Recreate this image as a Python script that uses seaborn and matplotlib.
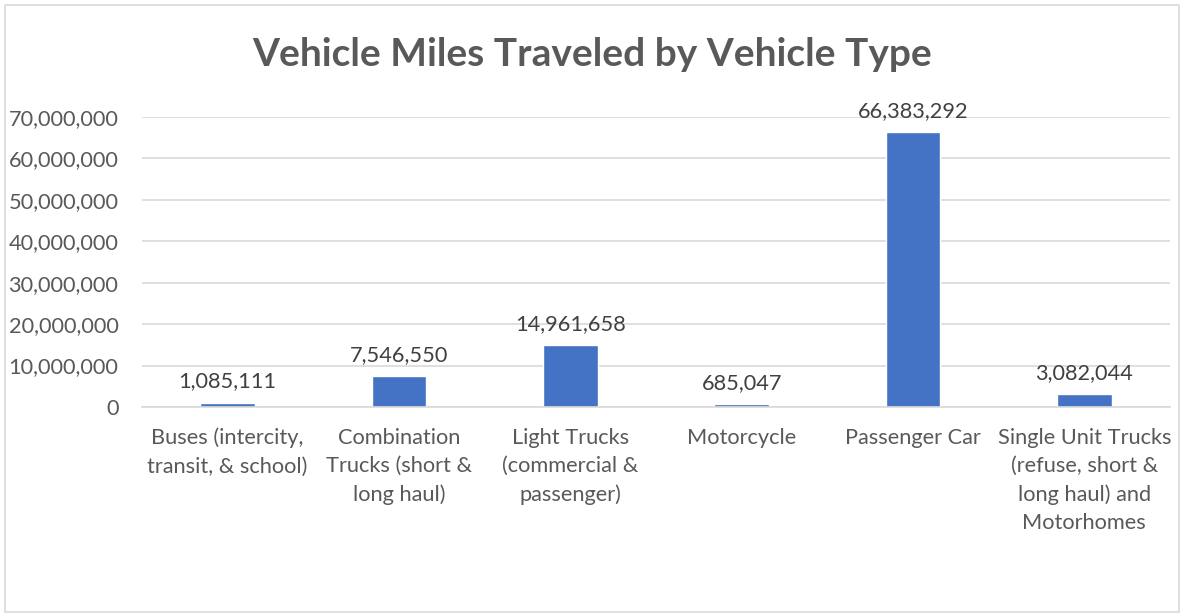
import matplotlib
matplotlib.use("Agg")
import matplotlib.pyplot as plt
import seaborn as sns
import pandas as pd
from matplotlib.patches import Rectangle
from matplotlib.ticker import FuncFormatter

categories = [
    "Buses (intercity,\ntransit, & school)",
    "Combination\nTrucks (short &\nlong haul)",
    "Light Trucks\n(commercial &\npassenger)",
    "Motorcycle",
    "Passenger Car",
    "Single Unit Trucks\n(refuse, short &\nlong haul) and\nMotorhomes",
]
miles = [1085111, 7546550, 14961658, 685047, 66383292, 3082044]
yticks = [0, 10000000, 20000000, 30000000, 40000000, 50000000, 60000000, 70000000]

df = pd.DataFrame({"type": categories, "miles": miles})

sns.set_style("white")
plt.rcParams["font.family"] = ["Lato", "DejaVu Sans"]

fig = plt.figure(figsize=(11.84, 6.16), dpi=100)
ax = fig.add_axes([142 / 1184, 1 - 407 / 616, (1170 - 142) / 1184, (407 - 117) / 616])

sns.barplot(data=df, x="type", y="miles", color="#4472C4", saturation=1, width=0.32, ax=ax)

ax.set_ylim(0, 70000000)
ax.set_yticks(yticks)
ax.yaxis.set_major_formatter(FuncFormatter(lambda v, p: f"{int(v):,}"))
ax.grid(axis="y", color="#d9d9d9", linewidth=1.2)
ax.set_axisbelow(True)
for s in ["top", "right", "left"]:
    ax.spines[s].set_visible(False)
ax.spines["bottom"].set_color("#d9d9d9")
ax.spines["bottom"].set_linewidth(1.2)
ax.tick_params(axis="both", length=0, labelsize=15.7, colors="#595959")
ax.tick_params(axis="y", pad=17)
ax.tick_params(axis="x", pad=15)
ax.set_xlabel("")
ax.set_ylabel("")
for lbl in ax.get_xticklabels():
    lbl.set_linespacing(1.5)

for i, v in enumerate(miles):
    ax.annotate(f"{v:,}", (i, v), xytext=(0, 8), textcoords="offset points",
                ha="center", va="bottom", fontsize=15.7, color="#404040")

fig.text(0.5, 1 - 54 / 616, "Vehicle Miles Traveled by Vehicle Type", ha="center", va="center",
         fontsize=28, fontweight="bold", color="#595959")

fig.patches.append(Rectangle((5 / 1184, 4 / 616), 1174 / 1184, 607 / 616, transform=fig.transFigure,
                             fill=False, edgecolor="#d9d9d9", linewidth=1.2))

fig.savefig("out.png", dpi=100)
